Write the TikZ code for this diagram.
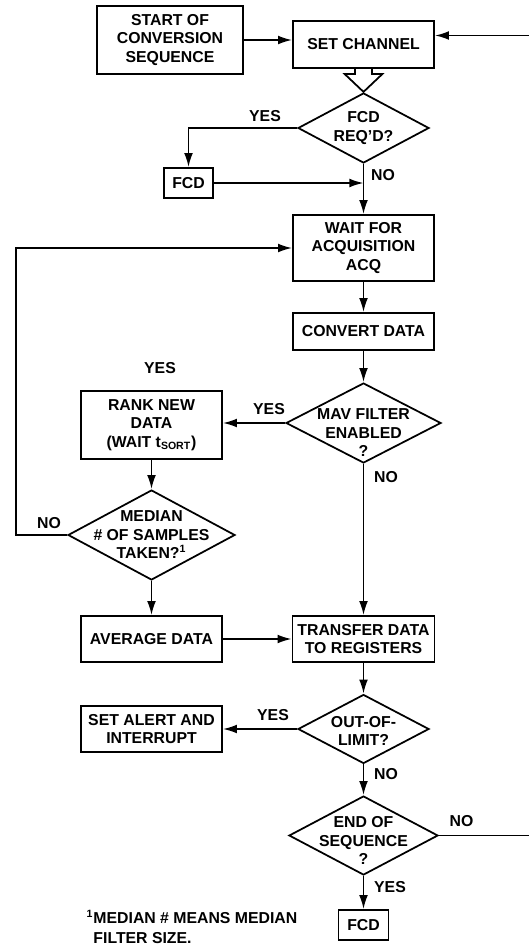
\documentclass[tikz,border=0pt]{standalone}
\usepackage{fontspec}
\setmainfont{Liberation Sans}
\usetikzlibrary{shapes.geometric, arrows.meta}

\begin{document}
\begin{tikzpicture}[line width=1pt, font=\fontsize{9}{10.5}\selectfont\bfseries,
        box/.style={draw, rectangle, align=center, inner sep=0pt},
        decision/.style={draw, diamond, inner sep=0pt},
        >={Latex[length=8pt,width=5pt]}]
        \useasboundingbox (0,0) rectangle (10.56,-18.9);
        \draw (3.4,-0.8)    node[box, minimum width=2.92cm, minimum height=1.36cm] (start) {START OF\\CONVERSION\\SEQUENCE};
        \draw (7.27,-0.89)  node[box, minimum width=2.82cm, minimum height=0.94cm] (setch) {SET CHANNEL};
        \draw (7.27,-2.56)  node[decision, minimum width=2.62cm, minimum height=1.4cm,
                label={[align=center]center:FCD\\REQ'D?}] (fcdq) {};
        \draw (3.77,-3.66)  node[box, minimum width=0.98cm, minimum height=0.6cm] (fcda) {FCD};
        \draw (7.27,-4.96)  node[box, minimum width=2.82cm, minimum height=1.32cm] (wait) {WAIT FOR\\ACQUISITION\\ACQ};
        \draw (7.27,-6.63)  node[box, minimum width=2.82cm, minimum height=0.74cm] (conv) {CONVERT DATA};
        \draw (7.27,-8.46)  node[decision, minimum width=3.1cm, minimum height=1.6cm,
                label={[align=center, yshift=-0.2cm]center:MAV FILTER\\ENABLED\\?}] (mav) {};
        \draw (3.03,-8.5)   node[box, minimum width=2.82cm, minimum height=1.36cm] (rank) {RANK NEW\\DATA\\(WAIT t\textsubscript{SORT})};
        \draw (3.03,-10.7)  node[decision, minimum width=3.34cm, minimum height=1.8cm,
                label={[align=center]center:MEDIAN\\\# OF SAMPLES\\TAKEN?\textsuperscript{1}}] (median) {};
        \draw (3.03,-12.78) node[box, minimum width=2.82cm, minimum height=0.92cm] (avg) {AVERAGE DATA};
        \draw (7.27,-12.78) node[box, minimum width=2.84cm, minimum height=0.92cm] (xfer) {TRANSFER DATA\\TO REGISTERS};
        \draw (7.27,-14.58) node[decision, minimum width=2.62cm, minimum height=1.38cm,
                label={[align=center, yshift=-0.04cm]center:OUT-OF-\\LIMIT?}] (ool) {};
        \draw (3.03,-14.58) node[box, minimum width=2.82cm, minimum height=0.92cm] (alert) {SET ALERT AND\\INTERRUPT};
        \draw (7.27,-16.71) node[decision, minimum width=2.98cm, minimum height=1.58cm,
                label={[align=center, yshift=-0.1cm]center:END OF\\SEQUENCE\\?}] (eos) {};
        \draw (7.27,-18.5)  node[box, minimum width=1.0cm, minimum height=0.6cm] (fcdb) {FCD};
        \coordinate (loop) at (0.32,-10.7);
        \coordinate (ret) at (10.62,-0.71);
        \node at (5.3,-2.32)   {YES};
        \node at (7.66,-3.5)   {NO};
        \node at (3.2,-7.36)   {YES};
        \node at (5.38,-8.18)  {YES};
        \node at (7.72,-9.54)  {NO};
        \node at (0.98,-10.46) {NO};
        \node at (5.46,-14.3)  {YES};
        \node at (7.72,-15.48) {NO};
        \node at (9.23,-16.42) {NO};
        \node at (7.8,-17.74)  {YES};
        \node[anchor=west, align=left, font=\fontsize{9}{11.3}\selectfont\bfseries] (note) at (1.6,-18.54)
                {\textsuperscript{1}MEDIAN \# MEANS MEDIAN\\\phantom{\textsuperscript{1}}FILTER SIZE.};
        \draw[line join=miter] (setch.south) ++(-0.17,0) -- ++(0,-0.1) -- ++(-0.21,0) -- ++(0.38,-0.36)
              -- ++(0.38,0.36) -- ++(-0.21,0) -- ++(0,0.1);
        \draw[->] (start.east) -- (start.east -| setch.west);
        \draw[->] (fcdq.west) -| (fcda.north);
        \draw[->] (fcda.east) -- (fcda.east -| fcdq.south);
        \draw[->] (fcdq.south) -- (wait.north);
        \draw[->] (wait.south) -- (conv.north);
        \draw[->] (conv.south) -- (mav.north);
        \draw[->] (mav.west) -- (mav.west -| rank.east);
        \draw[->] (rank.south) -- (median.north);
        \draw[->] (median.west) -- (loop) |- (wait.west);
        \draw[->] (median.south) -- (avg.north);
        \draw[->] (mav.south) -- (xfer.north);
        \draw[->] (avg.east) -- (xfer.west);
        \draw[->] (xfer.south) -- (ool.north);
        \draw[->] (ool.west) -- (alert.east);
        \draw[->] (ool.south) -- (eos.north);
        \draw[->] (eos.east) -| (ret) -- (ret -| setch.east);
        \draw[->] (eos.south) -- (fcdb.north);
    \end{tikzpicture}
\end{document}
